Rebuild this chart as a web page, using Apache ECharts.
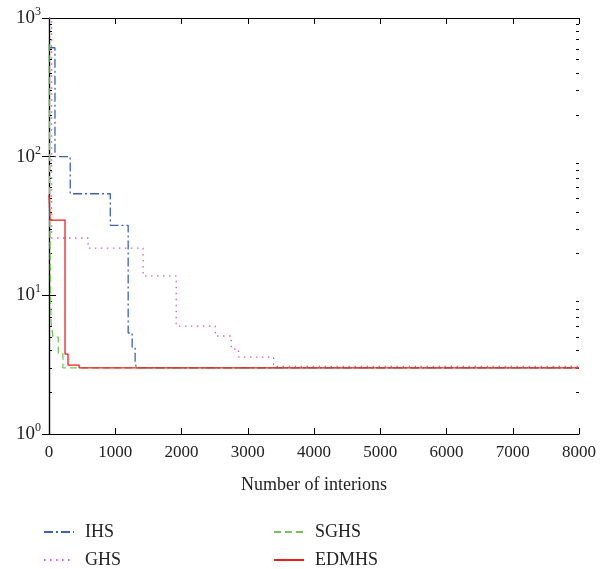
<!DOCTYPE html>
<html><head><meta charset="utf-8">
<script src="https://cdn.jsdelivr.net/npm/echarts@6/dist/echarts.min.js"></script>
<style>html,body{margin:0;padding:0;background:#fff}#c{width:600px;height:569px}</style>
</head><body><div id="c"></div>
<script>
// Series data: [iteration, best value] breakpoints (step lines)
const IHS   = [[0,610],[90,100],[320,54],[925,32],[1195,5.35],[1255,4.24],[1300,3.3],[1320,3.0],[8000,3.0]];
const GHS   = [[0,1000],[40,25.9],[590,21.9],[1420,13.8],[1920,6.0],[2510,5.09],[2750,4.1],[2860,3.59],[3390,3.07],[8000,3.05]];
const SGHS  = [[0,650],[10,40],[30,6.5],[60,5.0],[140,3.8],[210,3.0],[8000,3.0]];
const EDMHS = [[0,53],[15,34.9],[242,3.77],[287,3.14],[454,3.0],[8000,3.0]];
const xTicks = [0,1000,2000,3000,4000,5000,6000,7000,8000];
const xLabel = 'Number of interions';

const FONT = 'Liberation Serif';
const minorLog = [];
for (let d = 0; d < 3; d++) for (let k = 2; k <= 9; k++) minorLog.push(d + Math.log10(k));

const chart = echarts.init(document.getElementById('c'));
const lineAxis = {show: true, lineStyle: {color: '#000', width: 1.2}};
const G = {left: 49, right: 21, top: 18, bottom: 135};
const minorAxis = pos => ({
  gridIndex: 1, type: 'value', min: 0, max: 3, position: pos, axisLine: {show: false},
  axisTick: {show: true, inside: true, length: 3, customValues: minorLog, lineStyle: {color: '#000'}},
  axisLabel: {show: false}, splitLine: {show: false}
});
const legendCommon = {
  orient: 'vertical', top: 523, padding: 0, itemGap: 10, itemWidth: 30, itemHeight: 12,
  itemStyle: {opacity: 0},
  textStyle: {fontFamily: FONT, fontSize: 18, color: '#222', padding: [0,0,0,6]}
};
chart.setOption({
  animation: false,
  grid: [G, Object.assign({}, G)],
  xAxis: [{
    type: 'value', min: 0, max: 8000, interval: 1000, position: 'bottom',
    name: xLabel, nameLocation: 'middle', nameGap: 42,
    nameTextStyle: {fontFamily: FONT, fontSize: 18, color: '#222'},
    axisLine: lineAxis, axisTick: {inside: true, length: 6, lineStyle: {color: '#000'}},
    axisLabel: {fontFamily: FONT, fontSize: 17, color: '#222', margin: 10, formatter: v => String(v)},
    splitLine: {show: false}
  }, {
    type: 'value', min: 0, max: 8000, interval: 1000, position: 'top',
    axisLine: lineAxis, axisTick: {inside: true, length: 6, lineStyle: {color: '#000'}},
    axisLabel: {show: false}, splitLine: {show: false}
  }, {
    gridIndex: 1, type: 'value', min: 0, max: 8000, show: false
  }],
  yAxis: [{
    type: 'log', logBase: 10, min: 1, max: 1000, position: 'left',
    axisLine: lineAxis, axisTick: {inside: true, length: 7, lineStyle: {color: '#000'}},
    axisLabel: {
      margin: 8,
      formatter: v => '{b|10}{s|' + Math.round(Math.log10(v)) + '}',
      rich: {b: {fontFamily: FONT, fontSize: 19, color: '#222'},
             s: {fontFamily: FONT, fontSize: 12, color: '#222', padding: [0,0,12,0]}}
    },
    splitLine: {show: false}
  }, {
    type: 'log', logBase: 10, min: 1, max: 1000, position: 'right',
    axisLine: lineAxis, axisTick: {inside: true, length: 7, lineStyle: {color: '#000'}},
    axisLabel: {show: false}, splitLine: {show: false}
  }, minorAxis('left'), minorAxis('right')],
  legend: [
    Object.assign({data: ['IHS','GHS'], left: 43}, legendCommon),
    Object.assign({data: ['SGHS','EDMHS'], left: 273}, legendCommon)
  ],
  series: [
    {name: 'IHS', type: 'line', step: 'end', data: IHS, symbol: 'none',
     lineStyle: {color: '#3d62b8', width: 1.3, type: [9,3,2,3]}, itemStyle: {color: '#3d62b8'}},
    {name: 'GHS', type: 'line', step: 'end', data: GHS, symbol: 'none',
     lineStyle: {color: '#d45ccb', width: 1.3, type: [1.5,4.5]}, itemStyle: {color: '#d45ccb'}},
    {name: 'SGHS', type: 'line', step: 'end', data: SGHS, symbol: 'none',
     lineStyle: {color: '#77c55a', width: 1.3, type: [7,4]}, itemStyle: {color: '#77c55a'}},
    {name: 'EDMHS', type: 'line', step: 'end', data: EDMHS, symbol: 'none',
     lineStyle: {color: '#f01c1c', width: 1.3, type: 'solid'}, itemStyle: {color: '#f01c1c'}}
  ]
});
</script></body></html>
